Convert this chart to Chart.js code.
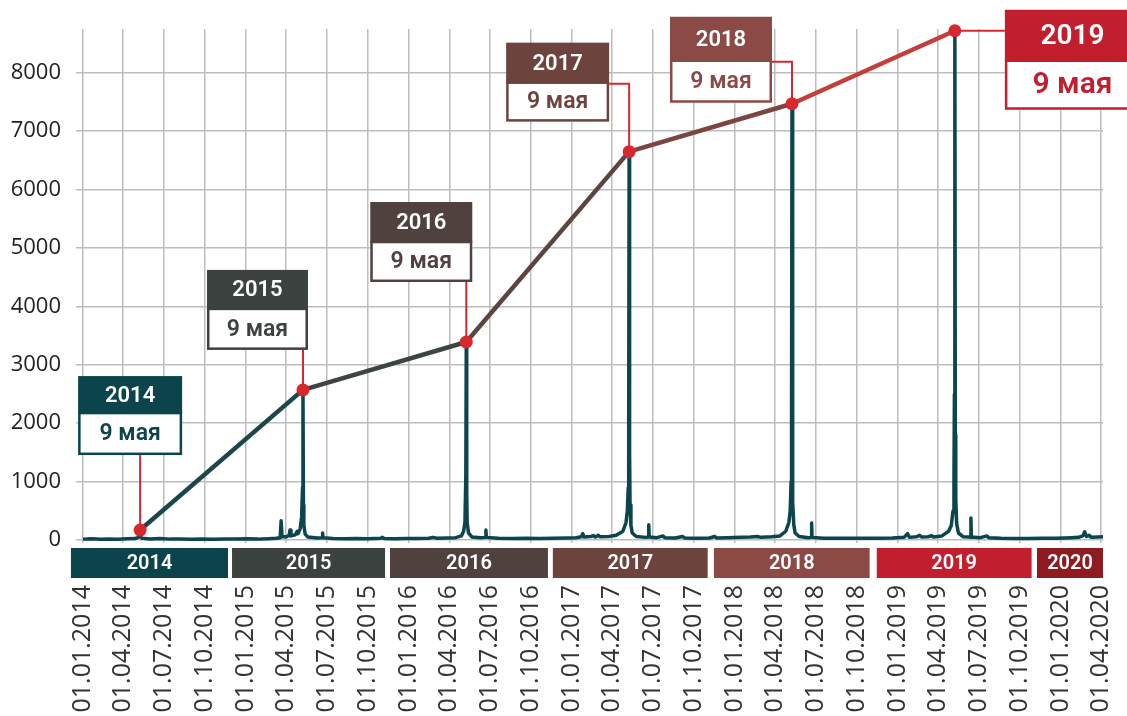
<!DOCTYPE html>
<html>
<head>
<meta charset="utf-8">
<script src="https://cdn.jsdelivr.net/npm/chart.js@4.4.1/dist/chart.umd.min.js"></script>
<style>
  html, body { margin: 0; padding: 0; background: #fff; }
  canvas { display: block; }
</style>
</head>
<body>
<canvas id="chart" width="1127" height="716"></canvas>
<script>
// x tick labels (quarters)
const tickLabels = [
  '01.01.2014', '01.04.2014', '01.07.2014', '01.10.2014',
  '01.01.2015', '01.04.2015', '01.07.2015', '01.10.2015',
  '01.01.2016', '01.04.2016', '01.07.2016', '01.10.2016',
  '01.01.2017', '01.04.2017', '01.07.2017', '01.10.2017',
  '01.01.2018', '01.04.2018', '01.07.2018', '01.10.2018',
  '01.01.2019', '01.04.2019', '01.07.2019', '01.10.2019',
  '01.01.2020', '01.04.2020'
]
const yTicks = [0, 1000, 2000, 3000, 4000, 5000, 6000, 7000, 8000]

// yearly 9 May values
const peakYears = ['2014', '2015', '2016', '2017', '2018', '2019']
const peakDates = ['2014-05-09', '2015-05-09', '2016-05-09', '2017-05-09', '2018-05-09', '2019-05-09']
const peakValues = [170, 2570, 3390, 6650, 7470, 8720]
const peakLabel = '9 мая'

// year bands under the axis
const bandYears = ['2014', '2015', '2016', '2017', '2018', '2019', '2020']
const bandStarts = ['2013-12-05', '2014-12-01', '2015-11-20', '2016-11-19', '2017-11-15', '2018-11-15', '2019-11-09']
const bandEnds = ['2014-11-22', '2015-11-09', '2016-11-08', '2017-11-01', '2018-10-30', '2019-10-28', '2020-04-05']

// daily series (sampled)
const dailyCounts = [
  ['2014-01-01', 15], ['2014-01-20', 20], ['2014-02-10', 12], ['2014-03-01', 18], ['2014-03-20', 14],
  ['2014-04-10', 20], ['2014-04-28', 25], ['2014-05-05', 45], ['2014-05-08', 90], ['2014-05-09', 170],
  ['2014-05-10', 60], ['2014-05-13', 30], ['2014-06-01', 18], ['2014-06-22', 25], ['2014-07-15', 15],
  ['2014-08-05', 18], ['2014-09-01', 12], ['2014-09-25', 16], ['2014-10-20', 14], ['2014-11-15', 18],
  ['2014-12-10', 15],
  ['2015-01-05', 20], ['2015-01-28', 15], ['2015-02-20', 22], ['2015-03-10', 30], ['2015-03-19', 40],
  ['2015-03-21', 330], ['2015-03-23', 60], ['2015-04-01', 50], ['2015-04-08', 80], ['2015-04-10', 170],
  ['2015-04-12', 70], ['2015-04-22', 90], ['2015-04-26', 150], ['2015-04-28', 110], ['2015-05-03', 200],
  ['2015-05-06', 400], ['2015-05-08', 900], ['2015-05-09', 2570], ['2015-05-10', 600], ['2015-05-11', 250],
  ['2015-05-14', 100], ['2015-05-20', 50], ['2015-06-10', 35], ['2015-06-21', 40], ['2015-06-22', 120],
  ['2015-06-23', 40], ['2015-07-15', 25], ['2015-08-10', 20], ['2015-09-05', 25], ['2015-10-01', 20],
  ['2015-10-30', 30], ['2015-11-03', 45], ['2015-11-07', 25], ['2015-12-01', 20], ['2015-12-25', 25],
  ['2016-01-20', 25], ['2016-02-15', 30], ['2016-02-24', 45], ['2016-03-05', 30], ['2016-03-28', 35],
  ['2016-04-15', 40], ['2016-04-28', 70], ['2016-05-03', 150], ['2016-05-06', 300], ['2016-05-08', 1100],
  ['2016-05-09', 3390], ['2016-05-10', 800], ['2016-05-11', 300], ['2016-05-14', 120], ['2016-05-22', 50],
  ['2016-06-10', 40], ['2016-06-21', 45], ['2016-06-22', 170], ['2016-06-23', 45], ['2016-07-20', 30],
  ['2016-08-20', 25], ['2016-09-20', 28], ['2016-10-20', 25], ['2016-11-20', 30], ['2016-12-20', 35],
  ['2017-01-10', 40], ['2017-01-22', 55], ['2017-01-25', 110], ['2017-01-28', 50], ['2017-02-12', 60],
  ['2017-02-18', 75], ['2017-02-22', 50], ['2017-03-01', 80], ['2017-03-05', 55], ['2017-03-25', 60],
  ['2017-04-10', 80], ['2017-04-25', 150], ['2017-05-02', 300], ['2017-05-05', 500], ['2017-05-07', 900],
  ['2017-05-08', 2000], ['2017-05-09', 6650], ['2017-05-10', 1500], ['2017-05-11', 600], ['2017-05-13', 250],
  ['2017-05-16', 120], ['2017-05-25', 60], ['2017-06-15', 45], ['2017-06-21', 50], ['2017-06-22', 260],
  ['2017-06-23', 50], ['2017-07-10', 40], ['2017-07-24', 70], ['2017-07-28', 40], ['2017-08-20', 35],
  ['2017-09-06', 60], ['2017-09-10', 35], ['2017-10-10', 30], ['2017-11-05', 35], ['2017-11-17', 60],
  ['2017-11-21', 35], ['2017-12-15', 40],
  ['2018-01-15', 45], ['2018-02-05', 50], ['2018-02-20', 60], ['2018-03-01', 45], ['2018-03-25', 55],
  ['2018-04-12', 70], ['2018-04-25', 150], ['2018-05-02', 300], ['2018-05-05', 500], ['2018-05-07', 1000],
  ['2018-05-08', 2200], ['2018-05-09', 7470], ['2018-05-10', 1600], ['2018-05-11', 650], ['2018-05-13', 260],
  ['2018-05-16', 120], ['2018-05-25', 60], ['2018-06-15', 40], ['2018-06-21', 45], ['2018-06-22', 290],
  ['2018-06-23', 45], ['2018-07-20', 30], ['2018-08-20', 28], ['2018-09-20', 30], ['2018-10-20', 28],
  ['2018-11-20', 32], ['2018-12-20', 35],
  ['2019-01-15', 45], ['2019-01-23', 110], ['2019-01-27', 45], ['2019-02-12', 55], ['2019-02-19', 80],
  ['2019-02-24', 50], ['2019-03-10', 55], ['2019-03-18', 75], ['2019-03-22', 50], ['2019-04-10', 70],
  ['2019-04-25', 150], ['2019-05-01', 250], ['2019-05-05', 500], ['2019-05-07', 1000], ['2019-05-08', 2500],
  ['2019-05-09', 8720], ['2019-05-10', 1800], ['2019-05-11', 700], ['2019-05-13', 280], ['2019-05-17', 120],
  ['2019-05-28', 55], ['2019-06-10', 50], ['2019-06-13', 45], ['2019-06-14', 375], ['2019-06-15', 50],
  ['2019-07-05', 40], ['2019-07-20', 70], ['2019-07-24', 40], ['2019-08-20', 30], ['2019-09-20', 25],
  ['2019-10-20', 25], ['2019-11-20', 28], ['2019-12-20', 30],
  ['2020-01-10', 35], ['2020-01-25', 40], ['2020-02-10', 45], ['2020-02-20', 70], ['2020-02-24', 140],
  ['2020-02-28', 60], ['2020-03-05', 80], ['2020-03-10', 45], ['2020-03-25', 50], ['2020-04-05', 55]
]

const xMaxDate = '2020-04-05'
const yMax = 8750

// colours
const yearColors = ['#0b444b', '#3c423f', '#4e413e', '#6d433e', '#8b4a46', '#c11f2e', '#8e1b1f']
const segColors = ['#1c4649', '#3e4444', '#5c4441', '#7b4541', '#c23f3b']
const dotColor = '#d8272f'
const dailyColor = '#0b454d'

// callout layout, relative to the dot (dx: box left, dy: box top)
const callouts = [
  { dx: -62, dy: -154, w: 104, h: 79, hTop: 38, link: 'down', fy: 22, fl: 23, tx: 0.5 },
  { dx: -96, dy: -120, w: 101, h: 80, hTop: 40, link: 'down', fy: 22, fl: 23, tx: 0.5 },
  { dx: -96, dy: -140, w: 102, h: 80, hTop: 41, link: 'down', fy: 22, fl: 23, tx: 0.5 },
  { dx: -123, dy: -109, w: 103, h: 79, hTop: 41, link: 'elbow', fy: 22, fl: 23, tx: 0.5 },
  { dx: -122, dy: -87, w: 102, h: 86, hTop: 45, link: 'elbow', fy: 22, fl: 23, tx: 0.5 },
  { dx: 50, dy: -21, w: 130, h: 100, hTop: 52, link: 'side', fy: 28, fl: 30, tx: 0.52 }
]

const DAY0 = Date.UTC(2014, 0, 1)
function isoDay(s) {
  const [y, m, d] = s.split('-').map(Number)
  return (Date.UTC(y, m - 1, d) - DAY0) / 86400000
}
function ruDay(s) {
  const [d, m, y] = s.split('.').map(Number)
  return (Date.UTC(y, m - 1, d) - DAY0) / 86400000
}
const tickDays = tickLabels.map(ruDay)

const boxFont = 'Roboto, "Noto Sans", sans-serif'

const bandsPlugin = {
  id: 'bands',
  afterDraw(chart) {
    const ctx = chart.ctx
    const x = chart.scales.x
    const top = chart.chartArea.bottom + 8
    ctx.save()
    bandYears.forEach((yr, i) => {
      const x0 = x.getPixelForValue(isoDay(bandStarts[i]))
      const x1 = x.getPixelForValue(isoDay(bandEnds[i]))
      ctx.fillStyle = yearColors[i]
      ctx.fillRect(x0, top, x1 - x0, 30)
      ctx.fillStyle = '#fff'
      ctx.font = '600 20px ' + boxFont
      ctx.textAlign = 'center'
      ctx.textBaseline = 'middle'
      ctx.fillText(yr, (x0 + x1) / 2, top + 16)
    })
    ctx.restore()
  }
}

const calloutPlugin = {
  id: 'callouts',
  afterDatasetDraw(chart, args) {
    if (args.index !== 1) return
    // connectors, drawn above the daily line and under the dots
    const ctx = chart.ctx
    const pts = chart.getDatasetMeta(0).data
    ctx.save()
    ctx.strokeStyle = dotColor
    ctx.lineWidth = 2
    callouts.forEach((c, i) => {
      const p = pts[i]
      const left = p.x + c.dx, top = p.y + c.dy
      ctx.beginPath()
      if (c.link === 'down') {
        ctx.moveTo(p.x, top + c.h)
        ctx.lineTo(p.x, p.y)
      } else if (c.link === 'elbow') {
        ctx.moveTo(left + c.w, top + c.hTop)
        ctx.lineTo(p.x, top + c.hTop)
        ctx.lineTo(p.x, p.y)
      } else {
        ctx.moveTo(p.x, p.y)
        ctx.lineTo(left, p.y)
      }
      ctx.stroke()
    })
    ctx.restore()
  },
  afterDraw(chart) {
    const ctx = chart.ctx
    const pts = chart.getDatasetMeta(0).data
    ctx.save()
    callouts.forEach((c, i) => {
      const p = pts[i]
      const left = p.x + c.dx, top = p.y + c.dy
      const col = yearColors[i]
      ctx.fillStyle = col
      ctx.fillRect(left, top, c.w, c.hTop)
      ctx.fillStyle = '#fff'
      ctx.fillRect(left, top + c.hTop, c.w, c.h - c.hTop)
      ctx.strokeStyle = col
      ctx.lineWidth = 2.5
      ctx.strokeRect(left + 1.25, top + c.hTop - 1, c.w - 2.5, c.h - c.hTop - 0.25)
      ctx.textAlign = 'center'
      ctx.textBaseline = 'middle'
      const cx = left + c.w * c.tx
      ctx.fillStyle = '#fff'
      ctx.font = '600 ' + c.fy + 'px ' + boxFont
      ctx.fillText(peakYears[i], cx, top + c.hTop / 2 + 1)
      ctx.fillStyle = col
      ctx.font = '600 ' + c.fl + 'px ' + boxFont
      ctx.fillText(peakLabel, cx, top + c.hTop + (c.h - c.hTop) / 2)
    })
    ctx.restore()
  }
}

new Chart(document.getElementById('chart'), {
  type: 'line',
  data: {
    datasets: [
      {
        label: '9 мая',
        data: peakDates.map((d, i) => ({ x: isoDay(d), y: peakValues[i] })),
        borderWidth: 4.5,
        borderColor: segColors[0],
        segment: { borderColor: ctx => segColors[ctx.p0DataIndex] },
        pointRadius: 6.5,
        pointBackgroundColor: dotColor,
        pointBorderWidth: 0,
        tension: 0,
        clip: false
      },
      {
        label: 'daily',
        data: dailyCounts.map(([d, v]) => ({ x: isoDay(d), y: v })),
        borderColor: dailyColor,
        borderWidth: 3.5,
        borderJoinStyle: 'round',
        pointRadius: 0,
        tension: 0,
        clip: 6
      }
    ]
  },
  options: {
    responsive: false,
    animation: false,
    devicePixelRatio: 1,
    layout: { padding: { top: 29, right: 24, left: 0, bottom: 0 } },
    plugins: { legend: { display: false }, tooltip: { enabled: false } },
    scales: {
      x: {
        type: 'linear',
        min: 0,
        max: isoDay(xMaxDate),
        border: { display: false },
        grid: { color: '#bdbdbd', lineWidth: 1.5, tickLength: 3 },
        afterBuildTicks: axis => { axis.ticks = tickDays.map(v => ({ value: v })) },
        afterFit: s => { s.height = 176; s.paddingLeft = 0; s.paddingRight = 0 },
        ticks: {
          autoSkip: false,
          minRotation: 90,
          maxRotation: 90,
          padding: 42,
          color: '#333',
          font: { family: '"Open Sans", sans-serif', size: 25 },
          callback: v => tickLabels[tickDays.indexOf(v)]
        }
      },
      y: {
        min: 0,
        max: yMax,
        border: { display: false },
        grid: { color: '#bdbdbd', lineWidth: 1.5, tickLength: 7 },
        afterBuildTicks: axis => { axis.ticks = yTicks.map(v => ({ value: v })) },
        afterFit: s => { s.width = 83; s.paddingTop = 0; s.paddingBottom = 0 },
        ticks: {
          padding: 15,
          color: '#222',
          font: { family: '"Open Sans", sans-serif', size: 22 },
          callback: v => String(v)
        }
      }
    }
  },
  plugins: [bandsPlugin, calloutPlugin]
})
</script>
</body>
</html>
